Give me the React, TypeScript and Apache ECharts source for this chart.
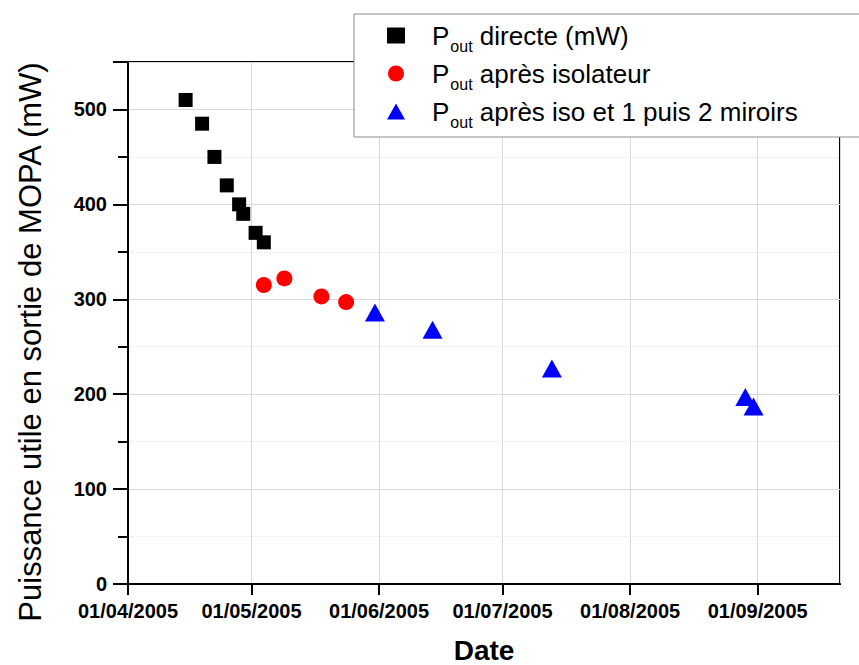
import React, { useEffect, useRef } from "react";
import * as echarts from "echarts";

const X_MIN = "2005-04-01";
const X_MAX = "2005-09-21";
const Y_MAX = 550;

const DATES_DIRECT = ["2005-04-15", "2005-04-19", "2005-04-22", "2005-04-25", "2005-04-28", "2005-04-29", "2005-05-02", "2005-05-04"];
const VALUES_DIRECT = [510, 485, 450, 420, 400, 390, 370, 360];

const DATES_ISO = ["2005-05-04", "2005-05-09", "2005-05-18", "2005-05-24"];
const VALUES_ISO = [315, 322, 303, 297];

const DATES_MIRROR = ["2005-05-31", "2005-06-14", "2005-07-13", "2005-08-29", "2005-08-31"];
const VALUES_MIRROR = [286, 268, 227, 197, 187];

const NAME_DIRECT = "Pout directe (mW)";
const NAME_ISO = "Pout après isolateur";
const NAME_MIRROR = "Pout après iso et 1 puis 2 miroirs";
const LEGEND_TAILS: Record<string, string> = {
  [NAME_DIRECT]: " directe (mW)",
  [NAME_ISO]: " après isolateur",
  [NAME_MIRROR]: " après iso et 1 puis 2 miroirs",
};

const FONT = "'Liberation Sans', Arial, Helvetica, sans-serif";

function pad(n: number) {
  return n < 10 ? "0" + n : "" + n;
}

export default function App() {
  const ref = useRef<HTMLDivElement>(null);
  useEffect(() => {
    document.body.style.margin = "0";
    const chart = echarts.init(ref.current!, null, { renderer: "svg" });
    const zip = (d: string[], v: number[]) => d.map((x, i) => [x, v[i]]);
    chart.setOption({
      animation: false,
      backgroundColor: "#fff",
      textStyle: { fontFamily: FONT },
      grid: {
        left: 128,
        right: 19,
        top: 62,
        bottom: 81,
        outerBoundsMode: "none",
        containLabel: false,
        show: true,
        borderColor: "#000",
        borderWidth: 2,
        backgroundColor: "transparent",
      },
      xAxis: {
        type: "time",
        min: X_MIN,
        max: X_MAX,
        name: "Date",
        nameLocation: "middle",
        nameGap: 52,
        nameTextStyle: { fontSize: 28, fontWeight: "bold", color: "#000", fontFamily: FONT },
        axisLine: { show: true, lineStyle: { color: "#000", width: 2 } },
        axisTick: { show: true, length: 11, lineStyle: { color: "#000", width: 2 } },
        axisLabel: {
          fontSize: 20,
          fontWeight: "bold",
          color: "#000",
          margin: 17,
          fontFamily: FONT,
          showMaxLabel: false,
          hideOverlap: false,
          formatter: (val: number) => {
            const d = new Date(val);
            return pad(d.getDate()) + "/" + pad(d.getMonth() + 1) + "/" + d.getFullYear();
          },
        },
        splitLine: { show: true, lineStyle: { color: "#d8d8d8", width: 1 } },
      },
      yAxis: {
        type: "value",
        min: 0,
        max: Y_MAX,
        interval: 100,
        axisLine: { show: true, lineStyle: { color: "#000", width: 2 } },
        axisTick: { show: true, length: 15, lineStyle: { color: "#000", width: 2 } },
        minorTick: { show: true, splitNumber: 2, length: 10, lineStyle: { color: "#000", width: 2 } },
        axisLabel: { fontSize: 20, fontWeight: "bold", color: "#000", margin: 21, fontFamily: FONT, showMaxLabel: false },
        splitLine: { show: true, lineStyle: { color: "#d8d8d8", width: 1 } },
        minorSplitLine: { show: true, lineStyle: { color: "#e6e6e6", width: 1, type: "dotted" } },
      },
      legend: {
        orient: "vertical",
        left: 354,
        top: 14,
        padding: [3, 80, 7, 33],
        itemGap: 1,
        itemWidth: 18,
        itemHeight: 16,
        backgroundColor: "#fff",
        borderColor: "#8a8a8a",
        borderWidth: 1,
        borderRadius: 0,
        data: [NAME_DIRECT, NAME_ISO, NAME_MIRROR],
        formatter: (name: string) => "{p0|P}{s|out}{t|" + LEGEND_TAILS[name] + "}",
        textStyle: {
          color: "#000",
          fontFamily: FONT,
          rich: {
            p0: { fontSize: 26, lineHeight: 26, color: "#000", fontFamily: FONT, padding: [0, 0, 0, 22] },
            s: { fontSize: 16, lineHeight: 16, color: "#000", fontFamily: FONT, padding: [21, 0, 0, 1] },
            t: { fontSize: 26, lineHeight: 26, color: "#000", fontFamily: FONT },
          },
        },
      },
      graphic: [
        {
          type: "text",
          x: 30,
          y: 342,
          rotation: Math.PI / 2,
          style: {
            text: "Puissance utile en sortie de MOPA (mW)",
            fontSize: 31,
            fontFamily: FONT,
            fill: "#000",
            textAlign: "center",
            textVerticalAlign: "middle",
          },
        },
      ],
      series: [
        {
          name: NAME_DIRECT,
          type: "scatter",
          symbol: "rect",
          symbolSize: 14,
          symbolKeepAspect: true,
          itemStyle: { color: "#000", opacity: 1 },
          data: zip(DATES_DIRECT, VALUES_DIRECT),
          z: 3,
        },
        {
          name: NAME_ISO,
          type: "scatter",
          symbol: "circle",
          symbolSize: 16,
          symbolKeepAspect: true,
          itemStyle: { color: "#ff0000", opacity: 1 },
          data: zip(DATES_ISO, VALUES_ISO),
          z: 3,
        },
        {
          name: NAME_MIRROR,
          type: "scatter",
          symbol: "triangle",
          symbolSize: [20, 18],
          itemStyle: { color: "#0000ff", opacity: 1 },
          data: zip(DATES_MIRROR, VALUES_MIRROR),
          z: 3,
        },
      ],
    });
    return () => chart.dispose();
  }, []);
  return <div ref={ref} style={{ position: "fixed", left: 0, top: 0, width: 859, height: 665 }} />;
}
